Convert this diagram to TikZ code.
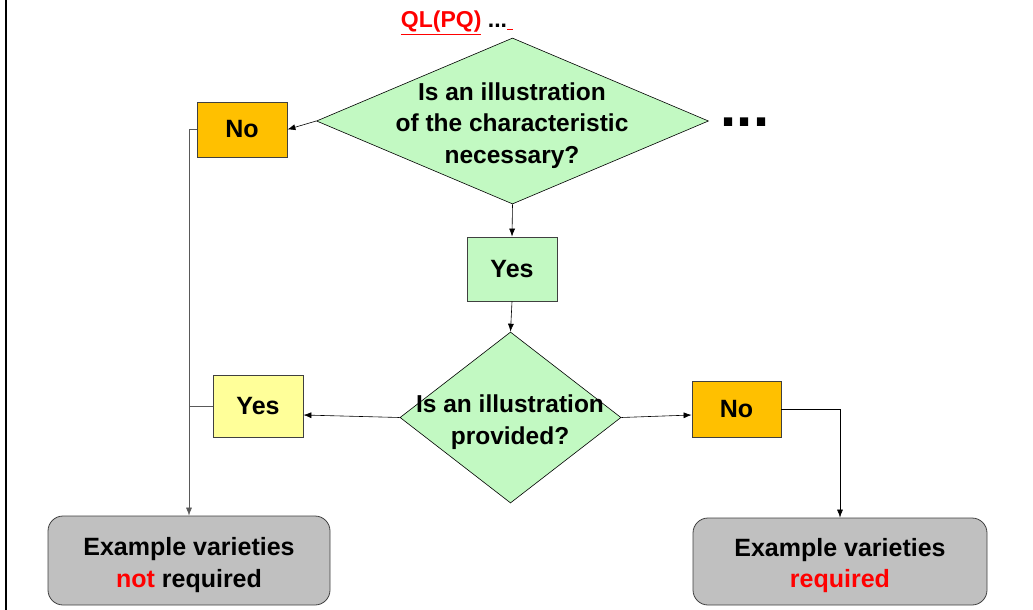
\documentclass[tikz,border=0pt]{standalone}
\usepackage{fontspec}
\setmainfont{Liberation Sans}
\usetikzlibrary{shapes.geometric,arrows.meta,calc}
\definecolor{qgreen}{HTML}{C2F9C2}
\definecolor{qorange}{HTML}{FFC000}
\definecolor{qyellow}{HTML}{FFFF99}
\definecolor{qgray}{HTML}{C0C0C0}
\definecolor{qedge}{HTML}{404040}
\begin{document}
\begin{tikzpicture}[x=1pt,y=-1pt,
  decision/.style={diamond, draw=black, line width=0.6pt, fill=qgreen, inner sep=0pt},
  qtext/.style={align=center, font=\fontsize{24.5}{31.5}\selectfont\bfseries},
  answer/.style={rectangle, draw=qedge, line width=0.8pt, inner sep=0pt, font=\fontsize{25}{30}\selectfont\bfseries},
  result/.style={rectangle, rounded corners=15pt, draw=qedge, line width=0.8pt, fill=qgray, inner sep=0pt, align=center, font=\fontsize{25}{31.5}\selectfont\bfseries},
  arr/.style={draw=black, line width=0.6pt, -{Latex[length=8pt,width=6pt]}},
  plain/.style={draw=black!65, line width=0.8pt}]
\useasboundingbox (0,0) rectangle (1033,610);
\draw[line width=2pt] (6,0) -- (6,610);

% title
\node[anchor=base, font=\fontsize{23}{25}\selectfont\bfseries] (title) at (457,28)
  {\textcolor{red}{\underline{QL(PQ)}} ...\textcolor{red}{\underline{\hspace{6pt}}}};

% decisions
\node[decision, minimum width=392pt, minimum height=166pt] (d1) at (512.5,121) {};
\node[qtext] (t1) at (512,125.5) {Is an illustration\\of the characteristic\\necessary?};
\node[anchor=base, font=\fontsize{58}{60}\selectfont\bfseries] (dots) at (745,126) {...};

\node[decision, minimum width=221pt, minimum height=171pt] (d2) at (510.5,417.5) {};
\node[qtext] (t2) at (510,422) {Is an illustration\\provided?};

% answers
\node[answer, fill=qorange, minimum width=90pt, minimum height=55pt] (no1) at (242,129.5) {No};
\node[answer, fill=qgreen, minimum width=90pt, minimum height=64pt] (yes1) at (512,269) {Yes};
\node[answer, fill=qyellow, minimum width=90pt, minimum height=62pt] (yes2) at (258,406) {Yes};
\node[answer, fill=qorange, minimum width=89pt, minimum height=56pt] (no2) at (736.5,409) {No};

% results
\node[result, minimum width=282pt, minimum height=89pt] (ex1) at (189,560.5) {};
\node[align=center, font=\fontsize{25}{31.5}\selectfont\bfseries] (ex1t) at (189,565)
  {Example varieties\\\textcolor{red}{not} required};
\node[result, minimum width=294pt, minimum height=87pt] (ex2) at (840,561.5) {};
\node[align=center, font=\fontsize{25}{31.5}\selectfont\bfseries] (ex2t) at (840,565.5)
  {Example varieties\\\textcolor{red}{required}};

% connectors
\draw[arr] (d1.west) -- (no1.east);
\draw[arr] (d1.south) -- (yes1.north);
\draw[arr] (yes1.south) -- (d2.north);
\draw[arr] (d2.west) -- ($(yes2.east)+(0,9)$);
\draw[arr] (d2.east) -- ($(no2.west)+(0,6)$);
\draw[plain] (no1.west) -- (no1.west -| ex1.north);
\draw[arr, draw=black!65] (no1.west -| ex1.north) -- (ex1.north);
\draw[plain] (yes2.west) -- (yes2.west -| ex1.north);
\draw[arr] (no2.east) -| (ex2.north);
\end{tikzpicture}
\end{document}
